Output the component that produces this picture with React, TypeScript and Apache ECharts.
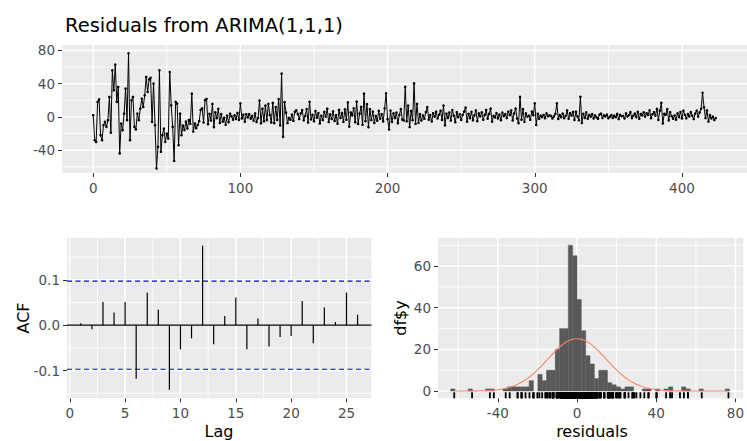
import React, { useEffect, useRef } from "react";
import * as echarts from "echarts";

// ---------- data ----------
const titleText = "Residuals from ARIMA(1,1,1)";
const residualStart = 0;
const residuals: number[] = [
  2, -28, -30, 18, 21, -22, -28, -10, -6, -12,
  -4, 24, -19, 56, 32, 63, 18, 36, -44, -8,
  -16, 4, 34, -4, 76.5, -28, 20, 24, -12, -15,
  4, -4, 10, 22, 12, 26, 48, 30, 45, 47,
  -6, 40, -10, -62, -36, 56, -42, -22, -14, -30,
  -20, -26, 54, 14, -12, -53, 18, 16, -34, 4,
  -22,
  -10.4, -15.8, -5.6, -13.9, -3.7, -8.3, 28, -17.6, -7.9, -13.5,
  -9.7, -5.2, 8.4, 10.3, -6.6, 20.2, 21.6, -8.8, 3.7, -4.4,
  15.6, -12.3, 5.5, -1.6, 9.6, -7.4, 3.3, -5.7, -1.2, -9.5,
  1.5, -6.3, 3.8, 0.6, -3.4, 1.9, -2.5, 4.7, -3.6, 16.2,
  -1.8, 2.6, -5.9, 3.2, -0.7, 3.4, -2.2, 1.3, -4.6, 4.1,
  -6.2, -1.4, 19.6, -7.7, 9.8, -5.3, 13.7, -3.9, 15.8, 2.4,
  -6.6, 16.8, -7.6, 11.7, -3.8, 21.5, -10.2, 52, -24, 17.7,
  5.2, -7.4, -1.1, -3.3, 2.8, -4.7, 6.1, 7.9, 3.4, -2.6,
  4.3, 8.2, -4.1, 1.2, 9.4, -6.8, 18.2, -3.1, 2.5, -5.3,
  7.1, -0.9, 4.6, -7.9, 1.4, -3.8, 5.9, 0.2, 9.8, -6.2,
  3.1, -2.4, 6.6, -4.9, 2.2, -8.1, 8.4, -1.3, 4.9, -5.9,
  9.1, -3.5, 17.6, -11.7, 5.3, 1.9, 10.4, -6.4, 18.3, -8.5,
  3.9, 12.1, -9.3, 28, -5.1, 15.5, -12.4, 9.2, -3.8, 6.3,
  -7.2, 1.1, -4.6, 7.3, -2.1, 3.3, -5.4, 10.2, 28.4, -2.7,
  -15.2, 7.6, -6.1, 4.2, -1.4, 5.1, -7.7, 2.3, 9.4, -3.2,
  -4.3, 36.2, -5.3, 13.6, -12.2, 7.2, -3.9, 40.3, -8.3, 15.7,
  -7.1, 3.4, -4.2, 1.9, -2.3, 5.8, 11.8, -3.4, 2.1, -5.5,
  4.4, 0.3, 6.2, -1.9, 2.6, 7.4, -3.7, 13.7, -10.2, 3.9,
  -1.2, 5.3, -4.4, 8.1, 1.5, -6.3, 5.6, -0.4, 3.2, -3.6,
  2.3, 6.4, 11.2, -5.8, 3.7, -1.5, 6.1, -4.1, 1.8, 7.7,
  -5.2, 4.2, 0.7, 5.4, -3.3, 2.4, 8.3, -2.2, 3.6, 9.9,
  -5.7, 1.3, -0.6, 4.5, -1.8, 2.7, -3.9, 5.2, 0.9, 3.4,
  -1.4, 6.3, 2.2, 7.8, -4.3, 4.1, 10.1, -1.9, -7.6, 24.2,
  -3.4, 9.3, -5.9, 4.3, 0.4, 1.6, -3.5, 6.4, 2.1, 16.2,
  -9.7, 3.8, -2.3, 1.4, -0.2, 2.3, -1.6, 4.2, 0.8, 1.9,
  1.1, -1.8, 0.6, 3.5, 16.3, -2.4, 2.2, -0.3, 3.9, -1.5,
  1.3, 7.7, -2.2, 4.4, 1.6, 5.9, -3.6, 6.2, 0.5, -4.1,
  24.2, -7.3, 3.7, -1.3, 5.5, -2.1, 2.4, 0.3, 3.3, -1.9,
  1.7, -0.5, -2.3, 2.6, 3.8, -1.4, 1.9, 0.6, 2.8, -1.7,
  0.2, 2.1, -1.2, 1.5, -0.4, 3.6, -2.6, 2.4, 0.8, 1.3,
  -1.9, 4.3, 0.5, 2.2, 5.7, -1.6, 1.4, 3.9, -0.2, 6.1,
  -2.1, 3.5, 1.8, 5.4, 0.4, 4.4, 2.3, 7.9, -1.5, 3.2,
  5.8, 1.6, 9.6, -3.7, 7.4, 16.8, -7.9, 3.6, 2.7, 9.3,
  -4.2, 5.6, 0.9, -2.3, 1.7, -3.4, 4.2, -0.4, 5.9, -1.8,
  7.5, 2.3, -1.7, 3.4, 0.6, 5.8, 1.5, -2.6, 3.9, 7.6,
  0.4, 5.3, 9.7, 29, 11.6, -1.4, 7.8, -5.6, 2.2, -1.9,
  0.3, -3.8, -1.4,
];

const acfLags = [1, 2, 3, 4, 5, 6, 7, 8, 9, 10, 11, 12, 13, 14, 15, 16, 17, 18, 19, 20, 21, 22, 23, 24, 25, 26];
const acfValues = [
  0.004, -0.009, 0.051, 0.028, 0.051, -0.118, 0.072, 0.034, -0.142, -0.053,
  -0.029, 0.175, -0.042, 0.02, 0.061, -0.053, 0.015, -0.047, -0.026, -0.024,
  0.053, -0.04, 0.039, 0.007, 0.072, 0.023,
];
const acfCI = 0.097;

const histBinWidth = 2.2;
const histFirstBinStart = -63.8;
const histCounts = [
  1, 0, 0, 0, 1, 0, 0, 0, 1, 1,
  0, 0, 1, 2, 2, 2, 2, 2, 5, 0,
  8, 5, 10, 10, 20, 30, 30, 70, 65, 44,
  29, 17, 13, 6, 10, 10, 4, 3, 2, 1,
  2, 2, 0, 0, 1, 1, 0, 1, 0, 1,
  2, 0, 0, 2, 1, 0, 0, 1, 0, 0,
  0, 0, 0, 1,
];
const normMean = 0;
const normSd = 14.8;
const normN = 424;

// tick labels
const topXTicks = [0, 100, 200, 300, 400];
const topYTicks = [-40, 0, 40, 80];
const acfXTicks = [0, 5, 10, 15, 20, 25];
const acfYTicks = [-0.1, 0, 0.1];
const histXTicks = [-40, 0, 40, 80];
const histYTicks = [0, 20, 40, 60];

const topXMinor = [50, 150, 250, 350];
const topYMinor = [-60, -20, 20, 60];
const acfXMinor = [2.5, 7.5, 12.5, 17.5, 22.5];
const acfYMinor = [-0.15, -0.05, 0.05, 0.15];
const histXMinor = [-60, -20, 20, 60];
const histYMinor = [10, 30, 50, 70];

// ---------- style ----------
const FONT = "'DejaVu Sans', sans-serif";
const PANEL = "#EBEBEB";

const ext = [
  { xMin: -21.2, xMax: 444.2, yMin: -67.5, yMax: 86.5 },
  { xMin: -0.25, xMax: 27.25, yMin: -0.161, yMax: 0.192 },
  { xMin: -70.2, xMax: 84, yMin: -3.5, yMax: 73.5 },
];

function axis(idx: number, dim: "x" | "y", ticks: number[], fmt?: (v: number) => string) {
  const e = ext[idx];
  return {
    type: "value",
    gridIndex: idx,
    min: dim === "x" ? e.xMin : e.yMin,
    max: dim === "x" ? e.xMax : e.yMax,
    axisLine: { show: false, onZero: false },
    axisTick: { show: true, customValues: ticks, length: 4, lineStyle: { color: "#333333", width: 1 } },
    axisLabel: {
      customValues: ticks,
      color: "#4D4D4D",
      fontSize: 13.5,
      fontFamily: FONT,
      margin: dim === "x" ? 8 : 7,
      formatter: fmt ? (v: number) => fmt(v) : (v: number) => String(v),
    },
    splitLine: { show: false },
  };
}

function gridSeries(idx: number, vMajor: number[], vMinor: number[], hMajor: number[], hMinor: number[]) {
  const e = ext[idx];
  const data = [
    ...vMinor.map((v) => [v, 0, 0]),
    ...hMinor.map((v) => [v, 1, 0]),
    ...vMajor.map((v) => [v, 0, 1]),
    ...hMajor.map((v) => [v, 1, 1]),
  ];
  return {
    type: "custom",
    xAxisIndex: idx,
    yAxisIndex: idx,
    z: 1,
    silent: true,
    data,
    renderItem: (_p: any, api: any) => {
      const v = api.value(0);
      const o = api.value(1);
      const m = api.value(2);
      const p1 = o === 0 ? api.coord([v, e.yMin]) : api.coord([e.xMin, v]);
      const p2 = o === 0 ? api.coord([v, e.yMax]) : api.coord([e.xMax, v]);
      return {
        type: "line",
        shape: { x1: p1[0], y1: p1[1], x2: p2[0], y2: p2[1] },
        style: { stroke: "#FFFFFF", lineWidth: m ? 1.5 : 0.8 },
      };
    },
  };
}

export default function App() {
  const ref = useRef<HTMLDivElement>(null);
  useEffect(() => {
    if (!ref.current) return;
    const chart = echarts.init(ref.current, undefined, { renderer: "svg" });

    const topData = residuals.map((v, i) => [residualStart + i, v]);
    const acfData = acfLags.map((l, i) => [l, acfValues[i]]);
    const histData = histCounts.map((c, i) => [histFirstBinStart + i * histBinWidth, c]);
    const rMin = Math.min(...residuals);
    const rMax = Math.max(...residuals);
    const normData: number[][] = [];
    const steps = 200;
    for (let s = 0; s <= steps; s++) {
      const x = rMin + ((rMax - rMin) * s) / steps;
      const d = Math.exp(-((x - normMean) ** 2) / (2 * normSd * normSd)) / (normSd * Math.sqrt(2 * Math.PI));
      normData.push([x, d * normN * histBinWidth]);
    }

    const textStyle = (size: number) => ({
      font: `${size}px ${FONT}`,
      fill: "#000000",
      textAlign: "center",
      textVerticalAlign: "middle",
      align: "center",
      verticalAlign: "middle",
    });

    chart.setOption({
      animation: false,
      backgroundColor: "#FFFFFF",
      grid: [
        { left: 62, top: 45, width: 687.6, height: 128, show: true, backgroundColor: PANEL, borderWidth: 0 },
        { left: 67, top: 238, width: 304.4, height: 160.3, show: true, backgroundColor: PANEL, borderWidth: 0 },
        { left: 438, top: 238, width: 309.5, height: 160.3, show: true, backgroundColor: PANEL, borderWidth: 0 },
      ],
      xAxis: [
        axis(0, "x", topXTicks),
        axis(1, "x", acfXTicks),
        axis(2, "x", histXTicks),
      ],
      yAxis: [
        axis(0, "y", topYTicks),
        axis(1, "y", acfYTicks, (v) => v.toFixed(1)),
        axis(2, "y", histYTicks),
      ],
      graphic: [
        {
          type: "text",
          x: 65,
          y: 25.5,
          style: { ...textStyle(19.5), textAlign: "left", align: "left", text: titleText },
        },
        { type: "text", x: 23, y: 318, rotation: Math.PI / 2, style: { ...textStyle(16), text: "ACF" } },
        { type: "text", x: 219, y: 431, style: { ...textStyle(16), text: "Lag" } },
        { type: "text", x: 400, y: 318, rotation: Math.PI / 2, style: { ...textStyle(16), text: "df$y" } },
        { type: "text", x: 592, y: 431, style: { ...textStyle(16), text: "residuals" } },
      ],
      series: [
        gridSeries(0, topXTicks, topXMinor, topYTicks, topYMinor),
        gridSeries(1, acfXTicks, acfXMinor, acfYTicks, acfYMinor),
        gridSeries(2, histXTicks, histXMinor, histYTicks, histYMinor),
        {
          type: "line",
          xAxisIndex: 0,
          yAxisIndex: 0,
          z: 3,
          data: topData,
          showSymbol: true,
          showAllSymbol: true,
          symbol: "circle",
          symbolSize: 2.6,
          itemStyle: { color: "#000000" },
          lineStyle: { color: "#000000", width: 1 },
          silent: true,
        },
        {
          type: "custom",
          xAxisIndex: 1,
          yAxisIndex: 1,
          z: 3,
          silent: true,
          data: [[0, 0], [acfCI, 1], [-acfCI, 1]],
          renderItem: (_p: any, api: any) => {
            const v = api.value(0);
            const dashed = api.value(1) === 1;
            const e = ext[1];
            const p1 = api.coord([e.xMin, v]);
            const p2 = api.coord([e.xMax, v]);
            return {
              type: "line",
              shape: { x1: p1[0], y1: p1[1], x2: p2[0], y2: p2[1] },
              style: dashed
                ? { stroke: "#0000FF", lineWidth: 1.2, lineDash: [5, 3.5] }
                : { stroke: "#000000", lineWidth: 1.2 },
            };
          },
        },
        {
          type: "custom",
          xAxisIndex: 1,
          yAxisIndex: 1,
          z: 4,
          silent: true,
          data: acfData,
          renderItem: (_p: any, api: any) => {
            const p1 = api.coord([api.value(0), 0]);
            const p2 = api.coord([api.value(0), api.value(1)]);
            return {
              type: "line",
              shape: { x1: p1[0], y1: p1[1], x2: p2[0], y2: p2[1] },
              style: { stroke: "#000000", lineWidth: 1.2 },
            };
          },
        },
        {
          type: "custom",
          xAxisIndex: 2,
          yAxisIndex: 2,
          z: 3,
          silent: true,
          data: histData,
          renderItem: (_p: any, api: any) => {
            const x0 = api.value(0);
            const c = api.value(1);
            if (!c) return null;
            const a = api.coord([x0, c]);
            const b = api.coord([x0 + histBinWidth, 0]);
            return {
              type: "rect",
              shape: { x: a[0], y: a[1], width: b[0] - a[0], height: b[1] - a[1] },
              style: { fill: "#595959", stroke: "#595959", lineWidth: 0.4 },
            };
          },
        },
        {
          type: "custom",
          xAxisIndex: 2,
          yAxisIndex: 2,
          z: 4,
          silent: true,
          data: residuals.map((r) => [r, 0]),
          renderItem: (_p: any, api: any) => {
            const p = api.coord([api.value(0), ext[2].yMin]);
            return {
              type: "line",
              shape: { x1: p[0], y1: p[1], x2: p[0], y2: p[1] - 6 },
              style: { stroke: "#000000", lineWidth: 1.8 },
            };
          },
        },
        {
          type: "line",
          xAxisIndex: 2,
          yAxisIndex: 2,
          z: 5,
          data: normData,
          showSymbol: false,
          smooth: false,
          lineStyle: { color: "#FF8066", width: 1.1 },
          silent: true,
        },
      ],
    });
    return () => chart.dispose();
  }, []);

  return (
    <div
      ref={ref}
      style={{ position: "absolute", left: 0, top: 0, width: 747, height: 441, background: "#FFFFFF" }}
    />
  );
}
